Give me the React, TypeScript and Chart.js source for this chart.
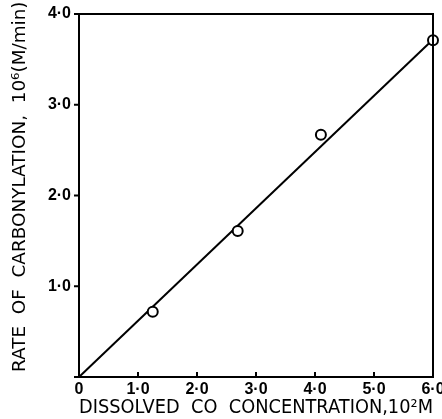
import React, { useEffect, useRef } from "react";
import { Chart, registerables } from "chart.js";

Chart.register(...registerables);

// Measured points (dissolved CO concentration vs rate of carbonylation)
const pointX = [1.25, 2.69, 4.1, 6.0];
const pointY = [0.72, 1.61, 2.67, 3.71];
// Fitted straight line through the origin
const fitX = [0, 6.0];
const fitY = [0, 3.72];

const xTickValues = [0, 1, 2, 3, 4, 5, 6];
const xTickLabels = ["0", "1·0", "2·0", "3·0", "4·0", "5·0", "6·0"];
const yTickValues = [0, 1, 2, 3, 4];
const yTickLabels = ["", "1·0", "2·0", "3·0", "4·0"];

const xTitle = "DISSOLVED  CO  CONCENTRATION,10²M";
const yTitle = "   RATE  OF  CARBONYLATION,  10⁶(M/min)";

const FONT = "'DejaVu Sans', sans-serif";
const TICK_FONT = "'Liberation Sans', 'DejaVu Sans', sans-serif";

const framePlugin = {
  id: "frame",
  afterDatasetsDraw(chart: any) {
    const { ctx, chartArea, scales } = chart;
    ctx.save();
    ctx.strokeStyle = "#000";
    ctx.lineWidth = 2;
    ctx.strokeRect(chartArea.left, chartArea.top, chartArea.right - chartArea.left, chartArea.bottom - chartArea.top);
    // x ticks pointing inward
    xTickValues.forEach((v) => {
      const px = scales.x.getPixelForValue(v);
      ctx.beginPath();
      ctx.moveTo(px, chartArea.bottom);
      ctx.lineTo(px, chartArea.bottom - 5);
      ctx.stroke();
    });
    // y ticks pointing outward
    yTickValues.forEach((v) => {
      const py = scales.y.getPixelForValue(v);
      ctx.beginPath();
      ctx.moveTo(chartArea.left, py);
      ctx.lineTo(chartArea.left - 5, py);
      ctx.stroke();
    });
    ctx.restore();
  },
};

export default function App() {
  const ref = useRef<HTMLCanvasElement | null>(null);
  useEffect(() => {
    if (!ref.current) return;
    const chart = new Chart(ref.current, {
      type: "scatter",
      data: {
        datasets: [
          {
            type: "line",
            data: fitX.map((x, i) => ({ x, y: fitY[i] })),
            borderColor: "#000",
            borderWidth: 2,
            pointRadius: 0,
            showLine: true,
            clip: false,
            order: 2,
          } as any,
          {
            data: pointX.map((x, i) => ({ x, y: pointY[i] })),
            borderColor: "#000",
            backgroundColor: "#fff",
            borderWidth: 2,
            pointRadius: 5,
            clip: false,
            order: 1,
          } as any,
        ],
      },
      options: {
        animation: false,
        responsive: false,
        maintainAspectRatio: false,
        layout: { padding: { top: 14, right: 9, left: 0, bottom: 0 } },
        plugins: { legend: { display: false }, tooltip: { enabled: false } },
        scales: {
          x: {
            type: "linear",
            min: 0,
            max: 6,
            afterFit: (s: any) => {
              s.height = 42;
              s.paddingLeft = 0;
              s.paddingRight = 0;
            },
            afterBuildTicks: (s: any) => {
              s.ticks = xTickValues.map((v) => ({ value: v }));
            },
            grid: { display: false, drawTicks: false },
            border: { display: false },
            ticks: {
              color: "#000",
              padding: 3,
              maxRotation: 0,
              autoSkip: false,
              font: { family: TICK_FONT, size: 16, weight: "bold" },
              callback: (v: any) => {
                const i = xTickValues.indexOf(Number(v));
                return i >= 0 ? xTickLabels[i] : "";
              },
            },
            title: {
              display: true,
              text: xTitle,
              color: "#000",
              font: { family: FONT, size: 19 },
              padding: { top: 0, bottom: 0 },
            },
          },
          y: {
            type: "linear",
            min: 0,
            max: 4,
            afterFit: (s: any) => {
              s.width = 79;
              s.paddingTop = 0;
              s.paddingBottom = 0;
            },
            afterBuildTicks: (s: any) => {
              s.ticks = yTickValues.map((v) => ({ value: v }));
            },
            grid: { display: false, drawTicks: false },
            border: { display: false },
            ticks: {
              color: "#000",
              padding: 8,
              autoSkip: false,
              font: { family: TICK_FONT, size: 16, weight: "bold" },
              callback: (v: any) => {
                const i = yTickValues.indexOf(Number(v));
                return i >= 0 ? yTickLabels[i] : "";
              },
            },
            title: {
              display: true,
              text: yTitle,
              color: "#000",
              font: { family: FONT, size: 18.4 },
              padding: { top: 9, bottom: 0 },
            },
          },
        },
      },
      plugins: [framePlugin],
    } as any);
    return () => chart.destroy();
  }, []);
  return (
    <div style={{ position: "fixed", left: 0, top: 0, width: 442, height: 419, background: "#fff" }}>
      <canvas ref={ref} width={442} height={419} style={{ width: 442, height: 419 }} />
    </div>
  );
}
